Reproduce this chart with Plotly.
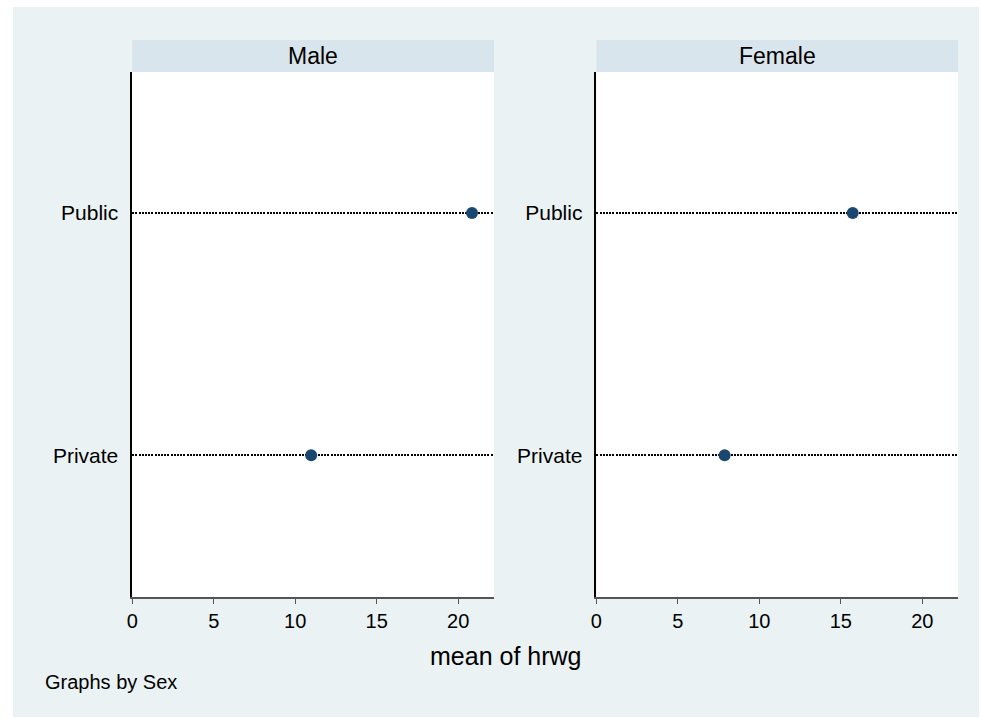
import plotly.graph_objects as go

categories = ["Private", "Public"]
panels = ["Male", "Female"]
male_values = [10.98, 20.85]
female_values = [7.87, 15.73]
x_ticks = [0, 5, 10, 15, 20]

W, H = 981, 719
def px(x): return x / W
def py(y): return 1 - y / H

fig = go.Figure()
NAVY = "#1a476f"
FONT = "Liberation Sans, Arial, sans-serif"

fig.add_trace(go.Scatter(x=male_values, y=categories, mode="markers",
                         marker=dict(color=NAVY, size=12), xaxis="x", yaxis="y",
                         showlegend=False))
fig.add_trace(go.Scatter(x=female_values, y=categories, mode="markers",
                         marker=dict(color=NAVY, size=12), xaxis="x2", yaxis="y2",
                         showlegend=False))

xdoms = [[px(127), px(491)], [px(594), px(958)]]
ydom = [py(597), py(72)]

common_x = dict(range=[0, 22.2], tickvals=x_ticks, ticks="outside", ticklen=5,
                tickcolor="#555555", showline=True, linecolor="#555555", linewidth=1.5,
                showgrid=False, zeroline=False,
                tickfont=dict(family=FONT, size=20, color="black"))
common_y = dict(type="category", categoryarray=categories, range=[-0.586, 1.583],
                showline=True, linecolor="black", linewidth=1.5, ticks="",
                showgrid=True, gridcolor="black", gridwidth=1.7, griddash="2px,1.2px",
                zeroline=False, ticklabelstandoff=8,
                tickfont=dict(family=FONT, size=21, color="black"))

fig.update_layout(
    width=W, height=H, margin=dict(l=0, r=0, t=0, b=0),
    paper_bgcolor="white", plot_bgcolor="white",
    xaxis=dict(domain=xdoms[0], anchor="y", **common_x),
    yaxis=dict(domain=ydom, anchor="x", **common_y),
    xaxis2=dict(domain=xdoms[1], anchor="y2", **common_x),
    yaxis2=dict(domain=ydom, anchor="x2", **common_y),
)

shapes = [dict(type="rect", xref="paper", yref="paper", x0=px(7), x1=px(979),
               y0=py(717), y1=py(7), fillcolor="#eaf2f3", line=dict(width=0), layer="below")]
annotations = []
for i, name in enumerate(panels):
    shapes.append(dict(type="rect", xref="paper", yref="paper", x0=xdoms[i][0], x1=xdoms[i][1],
                       y0=ydom[0], y1=ydom[1], fillcolor="white", line=dict(width=0), layer="below"))
    shapes.append(dict(type="rect", xref="paper", yref="paper", x0=xdoms[i][0], x1=xdoms[i][1],
                       y0=py(72), y1=py(40), fillcolor="#d9e5ec", line=dict(width=0), layer="below"))
    annotations.append(dict(text=name, xref="paper", yref="paper",
                            x=(xdoms[i][0] + xdoms[i][1]) / 2, y=py(56),
                            xanchor="center", yanchor="middle", showarrow=False,
                            font=dict(family=FONT, size=23, color="black")))

annotations.append(dict(text="mean of hrwg", xref="paper", yref="paper",
                        x=px(503), y=py(656), xanchor="center", yanchor="middle",
                        showarrow=False, font=dict(family=FONT, size=25, color="black")))
annotations.append(dict(text="Graphs by Sex", xref="paper", yref="paper",
                        x=px(37), y=py(682), xanchor="left", yanchor="middle",
                        showarrow=False, font=dict(family=FONT, size=20, color="black")))

fig.update_layout(shapes=shapes, annotations=annotations)
fig.write_html("out.html", config={"displayModeBar": False},
               post_script="document.body.style.margin='0';")
